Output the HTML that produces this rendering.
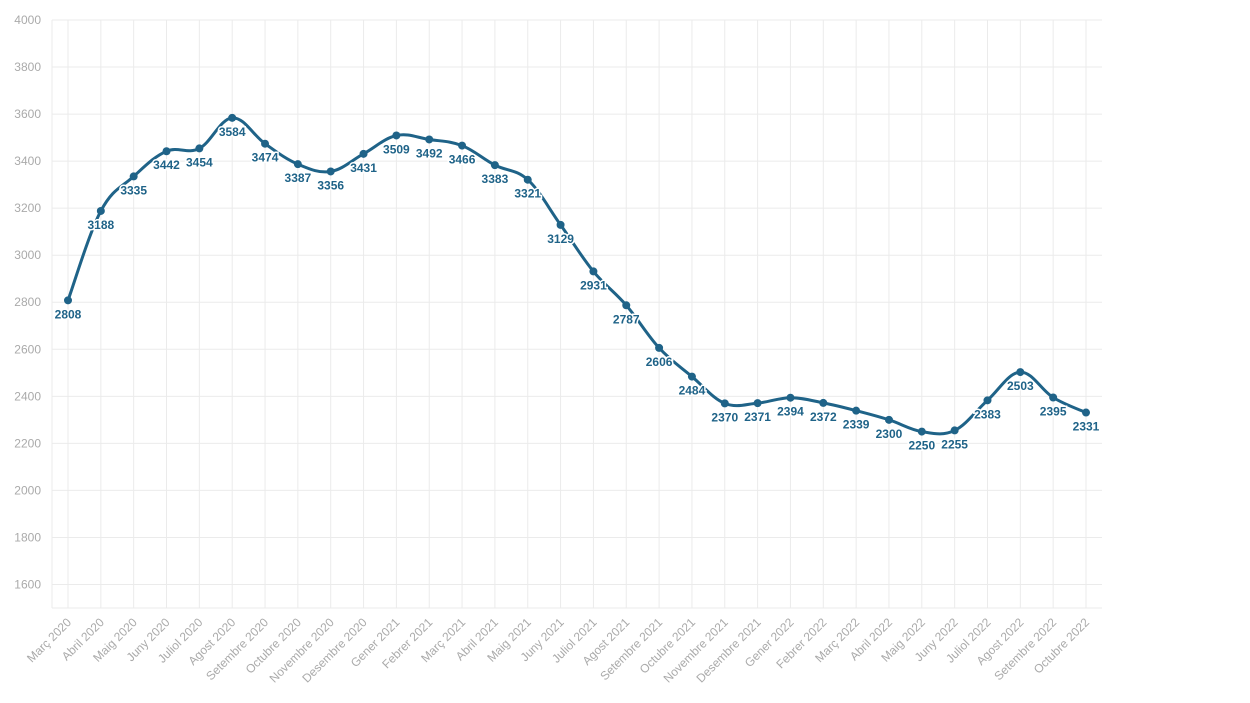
<!DOCTYPE html>
<html><head><meta charset="utf-8"><style>
body{margin:0;background:#fff;}
svg{display:block;font-family:"Liberation Sans",sans-serif;}
</style></head><body>
<svg id="chart" width="1250" height="703" viewBox="0 0 1250 703">
<g id="grid"></g>
<g id="yaxis"></g>
<g id="xaxis"></g>
<g id="series"></g>
<g id="labels"></g>
</svg>
<script>
const categories=["Març 2020","Abril 2020","Maig 2020","Juny 2020","Juliol 2020","Agost 2020","Setembre 2020","Octubre 2020","Novembre 2020","Desembre 2020","Gener 2021","Febrer 2021","Març 2021","Abril 2021","Maig 2021","Juny 2021","Juliol 2021","Agost 2021","Setembre 2021","Octubre 2021","Novembre 2021","Desembre 2021","Gener 2022","Febrer 2022","Març 2022","Abril 2022","Maig 2022","Juny 2022","Juliol 2022","Agost 2022","Setembre 2022","Octubre 2022"];
const values=[2808,3188,3335,3442,3454,3584,3474,3387,3356,3431,3509,3492,3466,3383,3321,3129,2931,2787,2606,2484,2370,2371,2394,2372,2339,2300,2250,2255,2383,2503,2395,2331];
const yTicks=[1600,1800,2000,2200,2400,2600,2800,3000,3200,3400,3600,3800,4000];
const NS="http://www.w3.org/2000/svg";
const L=52,R=1102,T=20,B=608;
const yMin=1500,yMax=4000;
const x0=68,x1=1086;
function xs(i){return x0+(x1-x0)*i/(categories.length-1);}
function ys(v){return B-(v-yMin)/(yMax-yMin)*(B-T);}
function mk(tag,attrs,parent){const e=document.createElementNS(NS,tag);for(const k in attrs)e.setAttribute(k,attrs[k]);parent.appendChild(e);return e;}
const grid=document.getElementById('grid'),ya=document.getElementById('yaxis'),xa=document.getElementById('xaxis'),se=document.getElementById('series'),lb=document.getElementById('labels');
yTicks.forEach(t=>{
  const g=mk('line',{x1:L,x2:R,y1:ys(t),y2:ys(t),stroke:'#ebebeb','stroke-width':1},grid);
  
  
  const tx=mk('text',{x:L-11,y:ys(t)+4,'text-anchor':'end','font-size':12,fill:'#aaa'},ya);
  tx.textContent=t;
  
  
});
categories.forEach((c,i)=>{
  const g=mk('line',{x1:xs(i),x2:xs(i),y1:T,y2:B,stroke:'#ebebeb','stroke-width':1},grid);
  
  
  const tx=mk('text',{x:0,y:0,'text-anchor':'end','font-size':12,fill:'#aaa',transform:`translate(${xs(i)+4},${B+15}) rotate(-45)`},xa);
  tx.textContent=c;
  
  
});
mk('line',{x1:L,x2:L,y1:T,y2:B,stroke:'#ebebeb'},grid);
mk('line',{x1:L,x2:R,y1:B,y2:B,stroke:'#ebebeb'},grid);
const pts=values.map((v,i)=>[xs(i),ys(v)]);
let d=`M${pts[0][0]},${pts[0][1]}`;
const tk=0.18;
for(let i=0;i<pts.length-1;i++){
  const p0=pts[Math.max(0,i-1)],p1=pts[i],p2=pts[i+1],p3=pts[Math.min(pts.length-1,i+2)];
  const c1=[p1[0]+(p2[0]-p0[0])*tk,p1[1]+(p2[1]-p0[1])*tk];
  const c2=[p2[0]-(p3[0]-p1[0])*tk,p2[1]-(p3[1]-p1[1])*tk];
  d+=` C${c1[0]},${c1[1]} ${c2[0]},${c2[1]} ${p2[0]},${p2[1]}`;
}
const path=mk('path',{d:d,fill:'none',stroke:'#1f6388','stroke-width':3},se);


values.forEach((v,i)=>{
  const c=mk('circle',{cx:xs(i),cy:ys(v),r:4,fill:'#1f6388'},se);
  
  
  const t=mk('text',{x:xs(i),y:ys(v)+18,'text-anchor':'middle','font-size':12,'font-weight':'bold',fill:'#1f6388',stroke:'#fff','stroke-width':3,'paint-order':'stroke'},lb);
  t.textContent=v;
  
  
});
</script>
</body></html>
